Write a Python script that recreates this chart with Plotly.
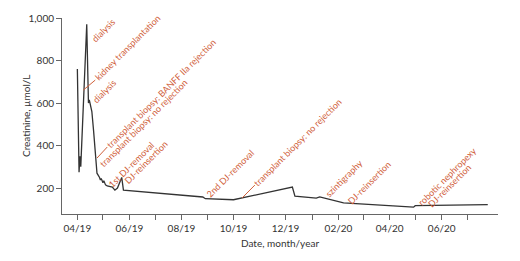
import plotly.graph_objects as go

# Creatinine series
dates = ["2019-04-01", "2019-04-03", "2019-04-04", "2019-04-05", "2019-04-12",
         "2019-04-14", "2019-04-15", "2019-04-18", "2019-04-20", "2019-04-22",
         "2019-04-24", "2019-04-27", "2019-04-28", "2019-04-29", "2019-05-01",
         "2019-05-02", "2019-05-04", "2019-05-06", "2019-05-12", "2019-05-15",
         "2019-05-18", "2019-05-23", "2019-05-25", "2019-08-26", "2019-08-29",
         "2019-10-01", "2019-12-09", "2019-12-12", "2020-01-06", "2020-01-10",
         "2020-02-07", "2020-04-29", "2020-05-01", "2020-07-25"]
creatinine = [760, 275, 350, 300, 970,
              600, 615, 560, 470, 345,
              270, 250, 238, 245, 225,
              235, 215, 210, 205, 190,
              200, 250, 190, 158, 150,
              145, 205, 162, 153, 158,
              130, 110, 117, 122]

# Axis ticks
major_ticks = ["2019-04-01", "2019-06-01", "2019-08-01", "2019-10-01",
               "2019-12-01", "2020-02-01", "2020-04-01", "2020-06-01"]
major_labels = ["04/19", "06/19", "08/19", "10/19", "12/19", "02/20", "04/20", "06/20"]
minor_ticks = ["2019-05-01", "2019-07-01", "2019-09-01", "2019-11-01",
               "2020-01-01", "2020-03-01", "2020-05-01", "2020-07-01"]
y_ticks = [200, 400, 600, 800, 1000]

# Event labels and the centre of each rotated label (date, value)
event_labels = ["dialysis", "kidney transplantation", "dialysis",
                "transplant biopsy: BANFF IIa rejection",
                "transplant biopsy: no rejection",
                "1st DJ-removal", "DJ-reinsertion", "2nd DJ-removal",
                "transplant biopsy: no rejection", "szintigraphy",
                "DJ-reinsertion", "robotic nephropexy", "DJ-reinsertion"]
label_dates = ["2019-05-01", "2019-05-30", "2019-05-02", "2019-07-08",
               "2019-06-17", "2019-06-03", "2019-06-20", "2019-09-27",
               "2019-12-15", "2020-02-07", "2020-03-08", "2020-06-07",
               "2020-06-10"]
label_values = [943, 859, 656, 647, 503, 313, 320, 268, 414, 245, 226, 256, 214]

# Leader lines (start date, start value, end date, end value)
leaders = [("2019-04-08", 661, "2019-04-22", 708),
           ("2019-04-24", 341, "2019-05-06", 393),
           ("2019-10-11", 153, "2019-10-26", 214)]

ORANGE = "#d0603a"
FONT = "Lato"

fig = go.Figure()
fig.add_trace(go.Scatter(x=dates, y=creatinine, mode="lines",
                         line=dict(color="#333333", width=1.3),
                         hoverinfo="skip", showlegend=False))

for txt, d, v in zip(event_labels, label_dates, label_values):
    fig.add_annotation(x=d, y=v, xref="x", yref="y", text=txt, showarrow=False,
                       textangle=-45, xanchor="center", yanchor="middle",
                       font=dict(family=FONT, size=9, color=ORANGE))

for x0, y0, x1, y1 in leaders:
    fig.add_shape(type="line", x0=x0, y0=y0, x1=x1, y1=y1, xref="x", yref="y",
                  line=dict(color=ORANGE, width=1))

# y-axis title as a rotated annotation left of the tick labels
fig.add_annotation(x=0, y=0.5, xref="paper", yref="paper", xshift=-36,
                   text="Creatinine, µmol/L", showarrow=False, textangle=-90,
                   xanchor="center", yanchor="middle",
                   font=dict(family=FONT, size=10, color="#333333"))

fig.update_layout(
    width=520, height=261,
    margin=dict(l=54, r=30, t=10, b=55),
    paper_bgcolor="white", plot_bgcolor="white",
    font=dict(family=FONT, size=10, color="#333333"),
    xaxis=dict(range=["2019-03-14", "2020-08-06"], type="date",
               tickvals=major_ticks, ticktext=major_labels,
               ticks="outside", ticklen=5, tickcolor="#666666",
               showline=True, linecolor="#666666", linewidth=1,
               showgrid=False, zeroline=False, automargin=False,
               minor=dict(tickvals=minor_ticks, ticks="outside", ticklen=5,
                          tickcolor="#666666", showgrid=False),
               title=dict(text="Date, month/year", standoff=6,
                          font=dict(size=10))),
    yaxis=dict(range=[78, 1000], tickvals=y_ticks,
               tickformat=",d", ticks="outside", ticklen=5,
               tickcolor="#666666", showline=True, linecolor="#666666",
               linewidth=1, showgrid=False, zeroline=False, automargin=False),
)

fig.write_html("out.html")
